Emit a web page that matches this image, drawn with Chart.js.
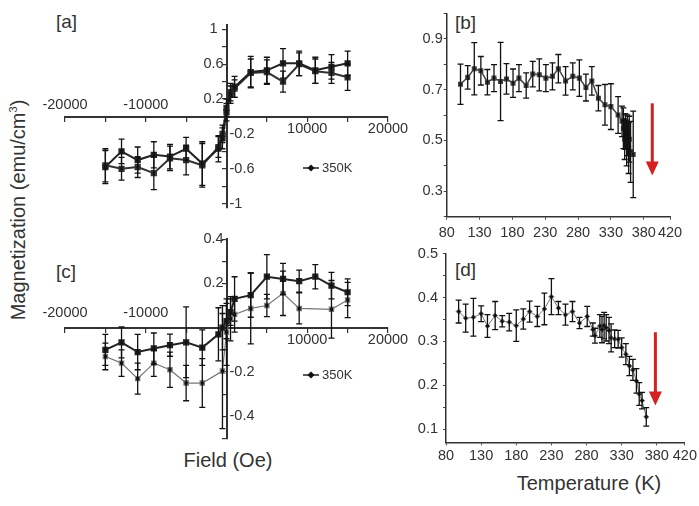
<!DOCTYPE html>
<html>
<head>
<meta charset="utf-8">
<script src="https://cdn.jsdelivr.net/npm/chart.js@4.4.1/dist/chart.umd.min.js"></script>
<style>
  body { margin: 0; background: #fff; }
  #wrap { position: relative; width: 699px; height: 506px; overflow: hidden; font-family: "Liberation Sans", Arial, sans-serif; color: #333; }
  canvas { position: absolute; }
  .lbl { position: absolute; white-space: nowrap; line-height: 1; }
</style>
</head>
<body>
<div id="wrap">
  <div class="lbl" style="left:18px;top:210px;font-size:20px;transform:translate(-50%,-50%) rotate(-90deg)">Magnetization (emu/cm<sup style="font-size:11px">3</sup>)</div>
  <div class="lbl" style="left:228px;top:460px;font-size:20px;transform:translate(-50%,-50%)">Field (Oe)</div>
  <div class="lbl" style="left:589px;top:483px;font-size:20px;transform:translate(-50%,-50%)">Temperature (K)</div>
  <div class="lbl" style="left:56px;top:12px;font-size:19px">[a]</div>
  <div class="lbl" style="left:455px;top:13px;font-size:19px">[b]</div>
  <div class="lbl" style="left:56px;top:262px;font-size:19px">[c]</div>
  <div class="lbl" style="left:455px;top:260px;font-size:19px">[d]</div>
  <canvas id="chartA" width="420" height="235" style="left:0;top:0"></canvas>
  <canvas id="chartC" width="420" height="220" style="left:0;top:230px"></canvas>
  <canvas id="chartB" width="299" height="240" style="left:400px;top:0"></canvas>
  <canvas id="chartD" width="299" height="266" style="left:400px;top:240px"></canvas>
</div>
<script>
// [a] field loop, two branches
const fieldA = [-15000, -13000, -11000, -9000, -7000, -5000, -3000, -1000, -500, 0, 500, 1000, 3000, 5000, 7000, 9000, 11000, 13000, 15000];
const magA1 = [-0.58, -0.40, -0.50, -0.44, -0.46, -0.37, -0.54, -0.37, -0.25, 0.05, 0.25, 0.34, 0.51, 0.53, 0.61, 0.61, 0.53, 0.57, 0.61];
const errA1 = [0.19, 0.14, 0.15, 0.15, 0.14, 0.13, 0.25, 0.15, 0.12, 0.1, 0.1, 0.12, 0.18, 0.15, 0.17, 0.14, 0.15, 0.14, 0.14];
const magA2 = [-0.56, -0.60, -0.58, -0.65, -0.48, -0.50, -0.56, -0.35, -0.20, 0.10, 0.28, 0.32, 0.50, 0.51, 0.40, 0.60, 0.52, 0.50, 0.45];
const errA2 = [0.19, 0.13, 0.12, 0.19, 0.14, 0.17, 0.25, 0.12, 0.1, 0.1, 0.1, 0.1, 0.16, 0.14, 0.12, 0.13, 0.14, 0.12, 0.15];

// [c] field loop, two branches
const fieldC1 = [-15000, -13000, -11000, -9000, -7000, -5000, -3000, -1000, -500, 0, 500, 1000, 3000, 5000, 7000, 9000, 11000, 13000, 15000];
const magC1 = [-0.10, -0.066, -0.11, -0.094, -0.079, -0.066, -0.09, -0.03, 0.0, 0.03, 0.07, 0.13, 0.147, 0.23, 0.22, 0.21, 0.23, 0.19, 0.16];
const errC1 = [0.07, 0.07, 0.08, 0.07, 0.05, 0.16, 0.08, 0.12, 0.1, 0.08, 0.06, 0.1, 0.1, 0.1, 0.07, 0.05, 0.055, 0.06, 0.06];
const fieldC2 = [-15000, -13000, -11000, -9000, -7000, -5000, -3000, -500, 0, 500, 1000, 3000, 5000, 7000, 9000, 13000, 15000];
const magC2 = [-0.13, -0.16, -0.23, -0.16, -0.19, -0.25, -0.25, -0.196, -0.02, 0.04, 0.06, 0.087, 0.10, 0.155, 0.087, 0.083, 0.125];
const errC2 = [0.06, 0.06, 0.07, 0.06, 0.08, 0.08, 0.11, 0.26, 0.15, 0.1, 0.08, 0.16, 0.05, 0.1, 0.07, 0.13, 0.08];

// [b] magnetization vs temperature
const tempB = [101, 112, 122, 132, 142, 152, 162, 171, 181, 190, 201, 211, 221, 231, 241, 250, 261, 272, 282, 292, 301, 311, 321, 330, 341, 347, 349, 351, 352, 354, 355, 357, 358, 360, 364];
const magB = [0.721, 0.748, 0.782, 0.774, 0.729, 0.745, 0.732, 0.742, 0.725, 0.745, 0.716, 0.761, 0.758, 0.745, 0.752, 0.782, 0.734, 0.752, 0.745, 0.708, 0.734, 0.666, 0.640, 0.633, 0.600, 0.575, 0.548, 0.505, 0.535, 0.490, 0.520, 0.470, 0.505, 0.455, 0.445];
const errB = [0.079, 0.046, 0.103, 0.056, 0.05, 0.053, 0.154, 0.06, 0.056, 0.053, 0.05, 0.05, 0.063, 0.053, 0.053, 0.056, 0.056, 0.053, 0.072, 0.053, 0.056, 0.05, 0.08, 0.09, 0.072, 0.06, 0.08, 0.08, 0.07, 0.09, 0.08, 0.1, 0.09, 0.12, 0.17];

// [d] magnetization vs temperature
const tempD = [98, 108, 119, 130, 139, 150, 160, 170, 180, 190, 199, 210, 220, 230, 240, 250, 260, 270, 281, 289, 292, 299, 302, 305, 308, 312, 315, 320, 325, 330, 336, 341, 346, 351, 355, 359, 365];
const magD = [0.368, 0.353, 0.355, 0.363, 0.335, 0.359, 0.346, 0.344, 0.336, 0.351, 0.368, 0.357, 0.374, 0.402, 0.376, 0.361, 0.368, 0.342, 0.357, 0.327, 0.313, 0.335, 0.327, 0.336, 0.331, 0.325, 0.308, 0.306, 0.305, 0.286, 0.271, 0.244, 0.235, 0.21, 0.18, 0.165, 0.128];
const errD = [0.026, 0.032, 0.043, 0.018, 0.026, 0.032, 0.013, 0.02, 0.036, 0.023, 0.024, 0.023, 0.036, 0.041, 0.015, 0.024, 0.023, 0.013, 0.023, 0.015, 0.017, 0.026, 0.03, 0.03, 0.03, 0.03, 0.032, 0.02, 0.02, 0.022, 0.024, 0.022, 0.024, 0.028, 0.026, 0.019, 0.021];

// ticks and labels
const fieldTicks = [-20000, -15000, -10000, -5000, 0, 5000, 10000, 15000, 20000];
const fieldLabels = [-20000, -10000, 10000, 20000];
const magTicksA = [-1, -0.8, -0.6, -0.4, -0.2, 0, 0.2, 0.4, 0.6, 0.8, 1];
const magLabelsA = [-1, -0.6, -0.2, 0.2, 0.6, 1];
const magTicksC = [-0.5, -0.4, -0.3, -0.2, -0.1, 0, 0.1, 0.2, 0.3, 0.4];
const magLabelsC = [-0.4, -0.2, 0.2, 0.4];
const tempTicks = [80, 130, 180, 230, 280, 330, 380, 420];
const magTicksB = [0.2, 0.3, 0.4, 0.5, 0.6, 0.7, 0.8, 0.9, 1.0];
const magLabelsB = [0.3, 0.5, 0.7, 0.9];
const magTicksD = [0.1, 0.15, 0.2, 0.25, 0.3, 0.35, 0.4, 0.45, 0.5];
const magLabelsD = [0.1, 0.2, 0.3, 0.4, 0.5];

// red arrows: [temperature, from, to]
const arrowB = [393, 0.646, 0.362];
const arrowD = [378, 0.321, 0.154];

const FONT = '"Liberation Sans", Arial, sans-serif';

function pts(xs, ys) {
  return xs.map((x, i) => ({ x: x, y: ys[i] }));
}

function has(list, v) {
  return list.some((l) => Math.abs(l - v) < 1e-6);
}

// vertical error bars with caps
const errorBars = {
  id: "errorBars",
  afterDatasetsDraw(chart) {
    const ctx = chart.ctx;
    const xs = chart.scales.x;
    const ys = chart.scales.y;
    chart.data.datasets.forEach((ds) => {
      if (!ds.errors) return;
      ctx.save();
      ctx.strokeStyle = "#111";
      ctx.lineWidth = 1.3;
      ds.data.forEach((p, j) => {
        const e = ds.errors[j];
        const px = xs.getPixelForValue(p.x);
        const top = ys.getPixelForValue(p.y + e);
        const bot = ys.getPixelForValue(p.y - e);
        ctx.beginPath();
        ctx.moveTo(px, top);
        ctx.lineTo(px, bot);
        ctx.moveTo(px - 3, top);
        ctx.lineTo(px + 3, top);
        ctx.moveTo(px - 3, bot);
        ctx.lineTo(px + 3, bot);
        ctx.stroke();
      });
      ctx.restore();
    });
  },
};

// tick labels on both sides of crossing axes + legend
const crossLabels = {
  id: "crossLabels",
  afterDraw(chart, args, opts) {
    const ctx = chart.ctx;
    const xs = chart.scales.x;
    const ys = chart.scales.y;
    const x0 = xs.getPixelForValue(0);
    const y0 = ys.getPixelForValue(0);
    ctx.save();
    ctx.font = "14.5px " + FONT;
    ctx.fillStyle = "#333";
    ctx.textBaseline = "middle";
    ctx.textAlign = "center";
    opts.xLabels.forEach((v) => {
      ctx.fillText(String(v), xs.getPixelForValue(v), v < 0 ? y0 - opts.above : y0 + opts.below);
    });
    opts.yLabels.forEach((v) => {
      const py = ys.getPixelForValue(v);
      if (v > 0) {
        ctx.textAlign = "center";
        ctx.fillText(String(v), x0 - 13, py);
      } else {
        ctx.textAlign = "left";
        ctx.fillText(String(v), x0 + 3, py);
      }
    });
    // legend
    const [lx, ly] = opts.legendAt;
    ctx.strokeStyle = "#222";
    ctx.lineWidth = 1.5;
    ctx.beginPath();
    ctx.moveTo(lx, ly);
    ctx.lineTo(lx + 16, ly);
    ctx.stroke();
    ctx.fillStyle = "#111";
    ctx.beginPath();
    ctx.moveTo(lx + 8, ly - 3.5);
    ctx.lineTo(lx + 11.5, ly);
    ctx.lineTo(lx + 8, ly + 3.5);
    ctx.lineTo(lx + 4.5, ly);
    ctx.closePath();
    ctx.fill();
    ctx.font = "13px " + FONT;
    ctx.fillStyle = "#333";
    ctx.textAlign = "left";
    ctx.fillText("350K", lx + 19, ly);
    ctx.restore();
  },
};

// red downward arrow
const redArrow = {
  id: "redArrow",
  afterDraw(chart, args, opts) {
    const [t, from, to] = opts.arrow;
    const ctx = chart.ctx;
    const px = chart.scales.x.getPixelForValue(t);
    const y1 = chart.scales.y.getPixelForValue(from);
    const y2 = chart.scales.y.getPixelForValue(to);
    ctx.save();
    ctx.strokeStyle = "#d42020";
    ctx.fillStyle = "#d42020";
    ctx.lineWidth = 3;
    ctx.beginPath();
    ctx.moveTo(px, y1);
    ctx.lineTo(px, y2 - 12);
    ctx.stroke();
    ctx.beginPath();
    ctx.moveTo(px - 6.5, y2 - 14);
    ctx.lineTo(px + 6.5, y2 - 14);
    ctx.lineTo(px, y2);
    ctx.closePath();
    ctx.fill();
    ctx.restore();
  },
};

function fieldChart(id, datasets, yMin, yMax, yTicks, yLabels, padding, legendAt, above, below) {
  return new Chart(document.getElementById(id), {
    type: "scatter",
    data: { datasets: datasets },
    options: {
      responsive: false,
      animation: false,
      layout: { padding: padding },
      plugins: {
        legend: { display: false },
        tooltip: { enabled: false },
        crossLabels: { xLabels: fieldLabels, yLabels: yLabels, legendAt: legendAt, above: above, below: below },
      },
      scales: {
        x: {
          type: "linear",
          min: -20000,
          max: 20000,
          position: { y: 0 },
          afterBuildTicks: (s) => { s.ticks = fieldTicks.map((v) => ({ value: v })); },
          ticks: { display: false },
          grid: { drawOnChartArea: false, color: "#333", tickLength: 4, lineWidth: 1.2 },
          border: { color: "#333", width: 2 },
        },
        y: {
          type: "linear",
          min: yMin,
          max: yMax,
          position: { x: 0 },
          afterBuildTicks: (s) => { s.ticks = yTicks.map((v) => ({ value: v })); },
          ticks: { display: false },
          grid: { drawOnChartArea: false, color: "#333", tickLength: 4, lineWidth: 1.2 },
          border: { color: "#333", width: 2 },
        },
      },
    },
    plugins: [errorBars, crossLabels],
  });
}

function tempChart(id, dataset, yMin, yMax, yTicks, yLabels, padding, xHeight, yWidth, xPad, yPad, arrow) {
  return new Chart(document.getElementById(id), {
    type: "scatter",
    data: { datasets: [dataset] },
    options: {
      responsive: false,
      animation: false,
      layout: { padding: padding },
      plugins: {
        legend: { display: false },
        tooltip: { enabled: false },
        redArrow: { arrow: arrow },
      },
      scales: {
        x: {
          type: "linear",
          min: 80,
          max: 420,
          afterBuildTicks: (s) => { s.ticks = tempTicks.map((v) => ({ value: v })); },
          afterFit: (s) => { s.height = xHeight; },
          ticks: { autoSkip: false, maxRotation: 0, padding: xPad, color: "#333", font: { family: FONT, size: 14.5 }, callback: (v) => String(v) },
          grid: { drawOnChartArea: false, color: "#444", tickLength: 3 },
          border: { color: "#333", width: 1.5 },
        },
        y: {
          type: "linear",
          min: yMin,
          max: yMax,
          afterBuildTicks: (s) => { s.ticks = yTicks.map((v) => ({ value: v })); },
          afterFit: (s) => { s.width = yWidth; },
          ticks: { autoSkip: false, padding: yPad, color: "#333", font: { family: FONT, size: 14.5 }, callback: (v) => (has(yLabels, v) ? v.toFixed(1) : "") },
          grid: { drawOnChartArea: false, color: "#444", tickLength: 3 },
          border: { color: "#333", width: 1.5 },
        },
      },
    },
    plugins: [errorBars, redArrow],
  });
}

fieldChart(
  "chartA",
  [
    { data: pts(fieldA, magA1), errors: errA1, showLine: true, borderColor: "#222", backgroundColor: "#111", borderWidth: 2, pointStyle: "rect", pointRadius: 3 },
    { data: pts(fieldA, magA2), errors: errA2, showLine: true, borderColor: "#333", backgroundColor: "#111", borderWidth: 2, pointStyle: "rect", pointRadius: 3 },
  ],
  -1.05, 1.05, magTicksA, magLabelsA,
  { left: 65, right: 32, top: 25, bottom: 27 },
  [303, 168], 11.5, 12
);

fieldChart(
  "chartC",
  [
    { data: pts(fieldC1, magC1), errors: errC1, showLine: true, borderColor: "#222", backgroundColor: "#111", borderWidth: 2, pointStyle: "rect", pointRadius: 3 },
    { data: pts(fieldC2, magC2), errors: errC2, showLine: true, borderColor: "#777", backgroundColor: "#111", borderWidth: 1.2, pointStyle: "rect", pointRadius: 3 },
  ],
  -0.5, 0.4, magTicksC, magLabelsC,
  { left: 65, right: 32, top: 9.1, bottom: 11.6 },
  [303, 145], 15, 12
);

tempChart(
  "chartB",
  { data: pts(tempB, magB), errors: errB, showLine: true, borderColor: "#444", backgroundColor: "#111", borderWidth: 1.5, pointStyle: "rect", pointRadius: 2.5 },
  0.2, 1.0, magTicksB, magLabelsB,
  { left: 0, right: 29, top: 13.3, bottom: 0 },
  23.3, 46.7, 5, 1, arrowB
);

tempChart(
  "chartD",
  { data: pts(tempD, magD), errors: errD, showLine: true, borderColor: "#777", backgroundColor: "#111", borderWidth: 1, pointStyle: "rectRot", pointRadius: 2.5 },
  0.07, 0.5, magTicksD, magLabelsD,
  { left: 0, right: 12.3, top: 11.7, bottom: 0 },
  63.7, 46, 2, 5, arrowD
);
</script>
</body>
</html>
